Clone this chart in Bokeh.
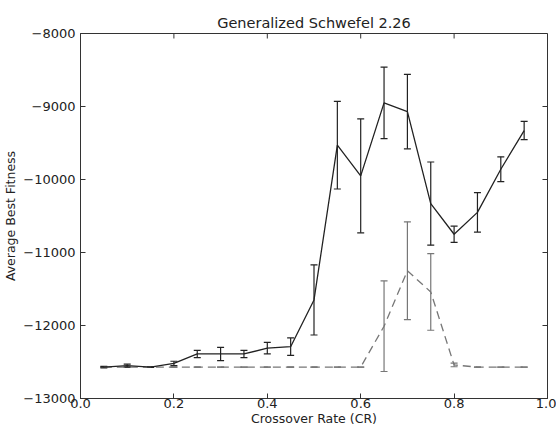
import math
from bokeh.plotting import figure
from bokeh.models import ColumnDataSource, Whisker, TeeHead, FixedTicker, PrintfTickFormatter, Range1d
from bokeh.embed import file_html
from bokeh.resources import INLINE

cr = [0.05, 0.10, 0.15, 0.20, 0.25, 0.30, 0.35, 0.40, 0.45, 0.50,
      0.55, 0.60, 0.65, 0.70, 0.75, 0.80, 0.85, 0.90, 0.95]
solid_mean = [-12570, -12550, -12570, -12520, -12390, -12390, -12390, -12310, -12290, -11650,
              -9530, -9950, -8950, -9070, -10330, -10750, -10450, -9860, -9330]
solid_err = [10, 20, 5, 30, 50, 90, 50, 80, 120, 480,
             600, 780, 490, 510, 570, 110, 270, 170, 125]
dash_mean = [-12570, -12570, -12570, -12570, -12570, -12570, -12570, -12570, -12570, -12570,
             -12570, -12570, -12010, -11250, -11540, -12540, -12570, -12570, -12570]
dash_err = [0, 0, 0, 0, 0, 0, 0, 0, 0, 0,
            0, 0, 620, 670, 525, 25, 0, 0, 0]

x_ticks = [0.0, 0.2, 0.4, 0.6, 0.8, 1.0]
y_ticks = [-13000, -12000, -11000, -10000, -9000, -8000]

FONT = "DejaVu Sans"
TXT = "#222222"
FRAME = "#333333"

p = figure(width=556, height=428, output_backend="svg", toolbar_location=None,
           x_range=Range1d(x_ticks[0], x_ticks[-1]), y_range=Range1d(y_ticks[0], y_ticks[-1]),
           title="Generalized Schwefel 2.26",
           min_border_left=78, min_border_right=9, min_border_top=33, min_border_bottom=28)

p.title.align = "center"
p.title.text_font = FONT
p.title.text_font_style = "normal"
p.title.text_font_size = "14.5px"
p.title.text_color = TXT
p.title.standoff = 6

p.grid.visible = False
p.outline_line_color = FRAME
p.outline_line_width = 1
p.background_fill_color = "white"
p.border_fill_color = "white"

for ax in (p.xaxis[0], p.yaxis[0]):
    ax.major_tick_in = 5
    ax.major_tick_out = 0
    ax.minor_tick_in = 0
    ax.minor_tick_out = 0
    ax.major_label_text_font = FONT
    ax.major_label_text_font_size = "13px"
    ax.major_label_text_color = TXT
    ax.axis_label_text_font = FONT
    ax.axis_label_text_font_size = "12.5px"
    ax.axis_label_text_font_style = "normal"
    ax.axis_label_text_color = TXT
    ax.axis_line_color = FRAME
    ax.major_tick_line_color = FRAME

p.xaxis[0].ticker = FixedTicker(ticks=x_ticks)
p.xaxis[0].formatter = PrintfTickFormatter(format="%.1f")
p.xaxis[0].axis_label = "Crossover Rate (CR)"
p.xaxis[0].major_label_standoff = 0
p.xaxis[0].axis_label_standoff = 0
p.yaxis[0].ticker = FixedTicker(ticks=y_ticks)
p.yaxis[0].axis_label = "Average Best Fitness"
p.yaxis[0].major_label_standoff = 5
p.yaxis[0].axis_label_standoff = 2

# mirrored inward ticks on top and right edges
p.ray(x=x_ticks, y=[y_ticks[-1]] * len(x_ticks), length=5, length_units="screen",
      angle=-math.pi / 2, line_color=FRAME, line_width=1)
p.ray(x=[x_ticks[-1]] * len(y_ticks), y=y_ticks, length=5, length_units="screen",
      angle=math.pi, line_color=FRAME, line_width=1)

src_s = ColumnDataSource(dict(x=cr, y=solid_mean,
                              lo=[m - e for m, e in zip(solid_mean, solid_err)],
                              hi=[m + e for m, e in zip(solid_mean, solid_err)]))
src_d = ColumnDataSource(dict(x=cr, y=dash_mean,
                              lo=[m - e for m, e in zip(dash_mean, dash_err)],
                              hi=[m + e for m, e in zip(dash_mean, dash_err)]))

p.line("x", "y", source=src_d, line_color="#777777", line_width=1.3, line_dash="8 5")
p.line("x", "y", source=src_s, line_color="#222222", line_width=1.3)

for src, col in ((src_d, "#777777"), (src_s, "#222222")):
    w = Whisker(base="x", lower="lo", upper="hi", source=src,
                line_color=col, line_width=1.2,
                upper_head=TeeHead(size=7, line_color=col, line_width=1.2),
                lower_head=TeeHead(size=7, line_color=col, line_width=1.2))
    p.add_layout(w)

open("out.html", "w").write(file_html(p, INLINE))
